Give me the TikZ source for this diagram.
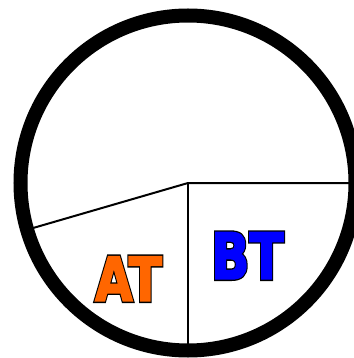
\documentclass[tikz,border=0pt]{standalone}
\usepackage{fontspec}
\setmainfont{DejaVu Sans}
\definecolor{atorange}{HTML}{FF6600}
\definecolor{btblue}{HTML}{0000FF}
% black outline layer and coloured (slightly emboldened) face layer
\newcommand{\backtext}[1]{\textcolor{black}{\special{pdf:literal direct 2 Tr 4.4 w 0 j 4 M}#1\special{pdf:literal direct 0 Tr}}}
\newcommand{\facetext}[2]{\textcolor{#1}{\special{pdf:literal direct 2 Tr 1.8 w 0 j 4 M}#2\special{pdf:literal direct 0 Tr}}}
\begin{document}
\begin{tikzpicture}[x=1pt,y=-1pt,
  rim/.style={line width=14pt,draw=black},
  divider/.style={line width=2pt,draw=black},
  label/.style={anchor=base,inner sep=0pt},
  atfont/.style={font=\fontsize{60.5}{60}\selectfont\bfseries},
  btfont/.style={font=\fontsize{63.5}{63}\selectfont\bfseries}]
\useasboundingbox (0,0) rectangle (353,358);
\coordinate (c) at (188,183);
\coordinate (r) at (360,183);
\coordinate (b) at (188,352);
\coordinate (l) at ([shift={(196.2:167.5pt)}]c);
\draw[divider] (l) -- (c) -- (r);
\draw[divider] (c) -- (b);
\node[rim,circle,minimum size=335pt,inner sep=0pt,fill=none] (ring) at (c) {};
\node[label,atfont] (atback) at (128.5,300.8) {\scalebox{0.80}[1]{\backtext{AT}}};
\node[label,atfont] (at) at (atback.base) {\scalebox{0.80}[1]{\facetext{atorange}{AT}}};
\node[label,btfont] (btback) at (247.5,278.8) {\scalebox{0.79}[1]{\backtext{BT}}};
\node[label,btfont] (bt) at (btback.base) {\scalebox{0.79}[1]{\facetext{btblue}{BT}}};
\end{tikzpicture}
\end{document}
